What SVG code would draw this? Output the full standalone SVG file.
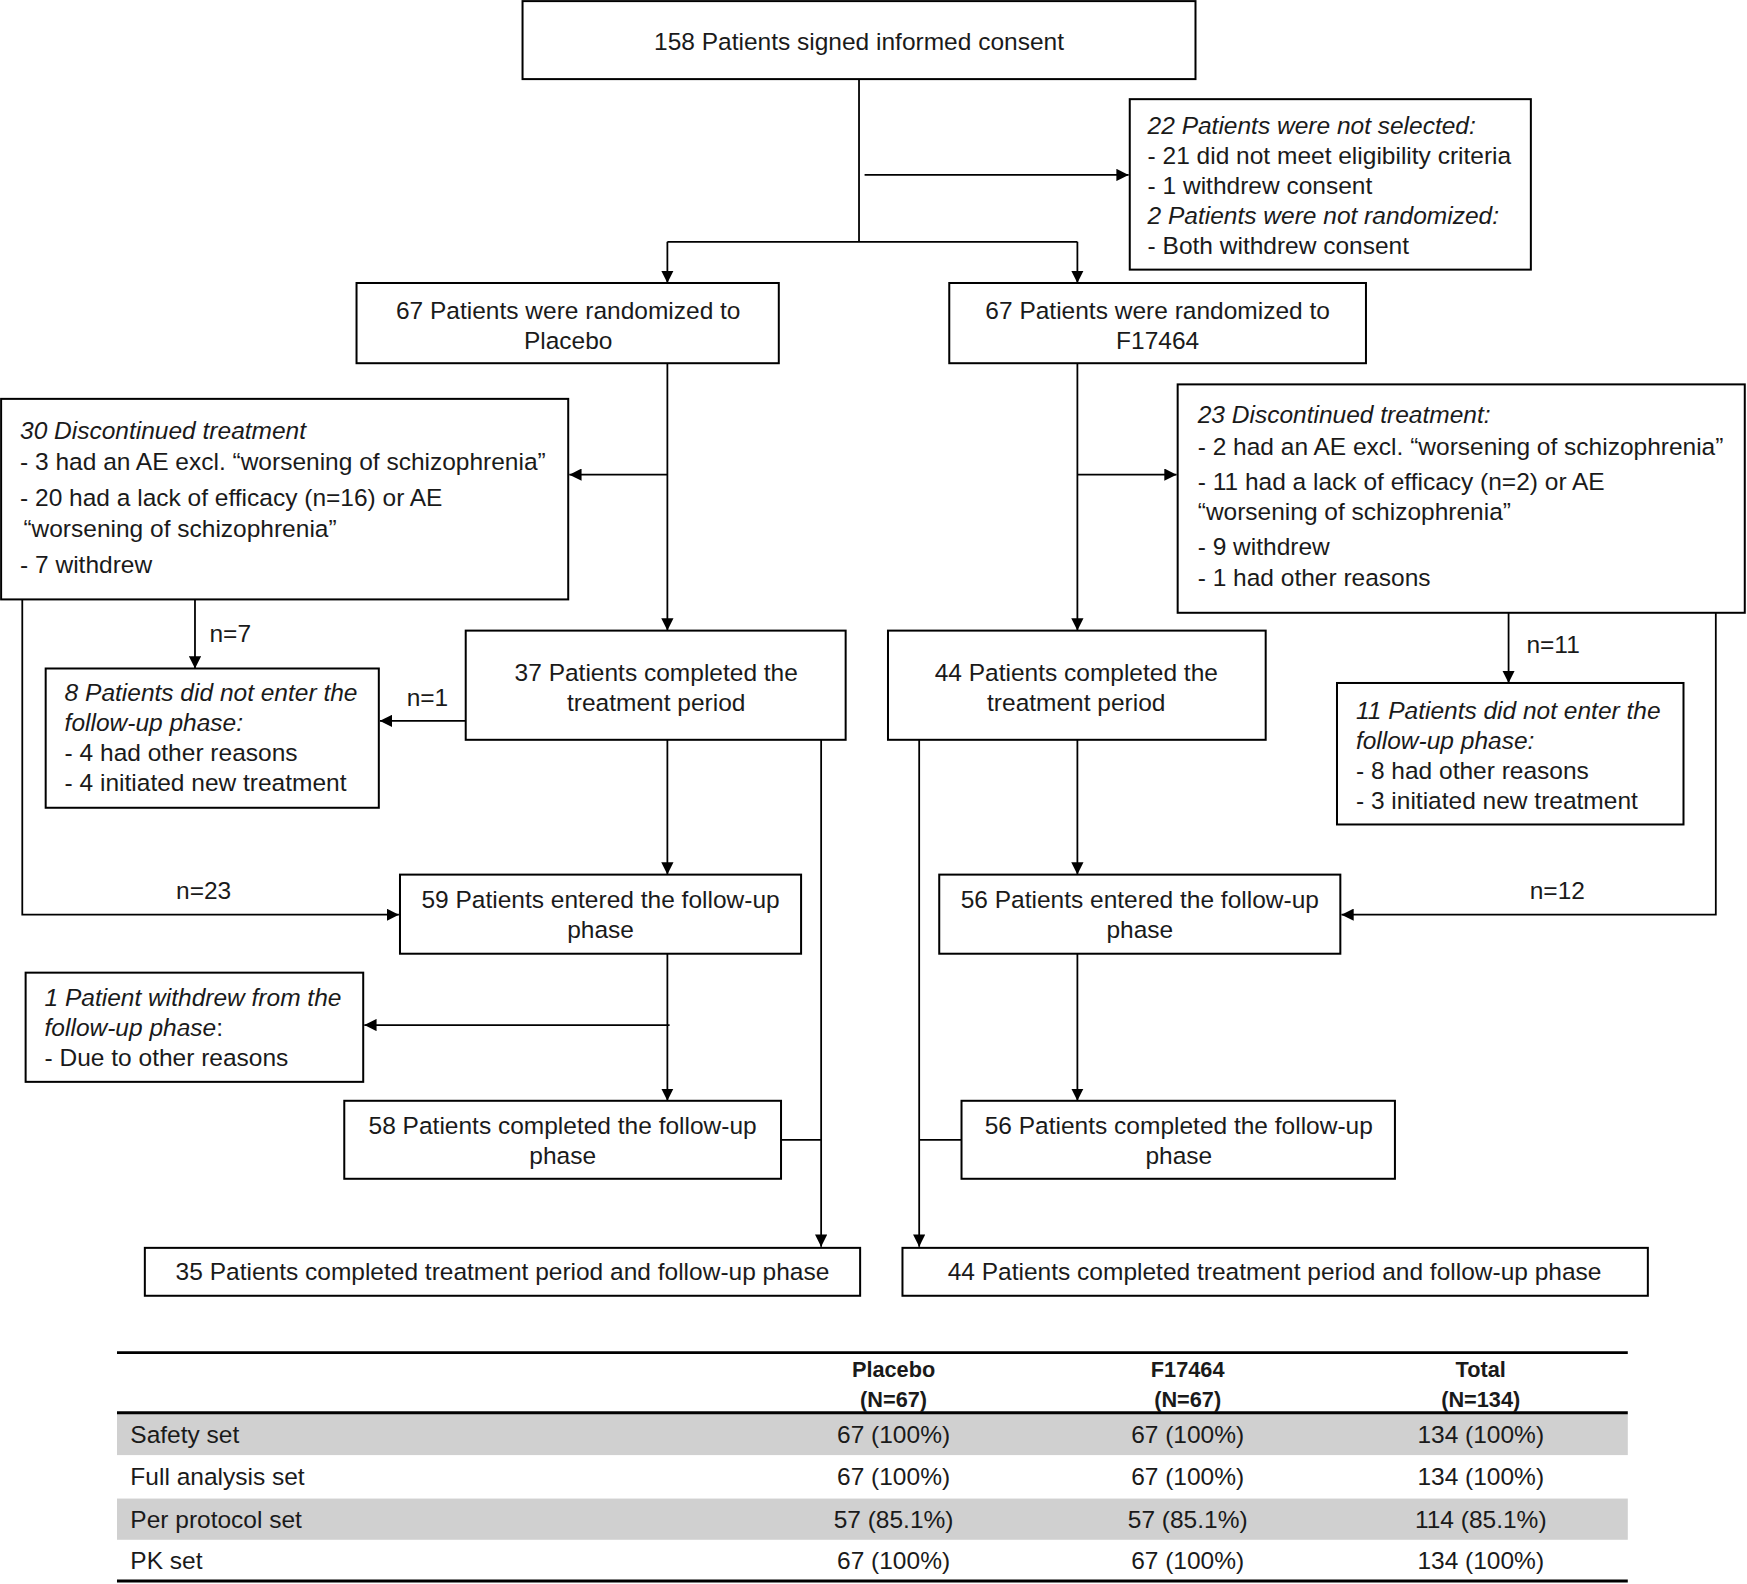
<svg xmlns="http://www.w3.org/2000/svg" width="1747" height="1584" viewBox="0 0 1747 1584">
<style>
.b{fill:#fff;stroke:#000;stroke-width:1.8}
.t{font-family:"Liberation Sans",Arial,sans-serif;font-size:22px;fill:#1a1a1a}
.c{text-anchor:middle}
.i{font-style:italic}
.h{font-weight:bold;font-size:19.5px}
.l{fill:none;stroke:#000;stroke-width:1.6}
.a{marker-end:url(#ar)}
.g{fill:#d0d0d0}
.r{stroke:#000;stroke-width:2.6}
</style>
<defs>
<marker id="ar" viewBox="0 0 10 10" markerWidth="11" markerHeight="11" refX="10" refY="5" orient="auto" markerUnits="userSpaceOnUse">
<path d="M0,0 L10,5 L0,10 Z" fill="#000"/>
</marker>
</defs>
<rect width="1747" height="1584" fill="#fff"/>
<g transform="scale(1.11416)">
<g id="connectors">
<path class="l" d="M771,71 V217 M599,217 H967"/>
<path class="l a" d="M776,157 H1013"/>
<path class="l a" d="M599,217 V254"/>
<path class="l a" d="M967,217 V254"/>
<path class="l a" d="M599,326 V566"/>
<path class="l a" d="M599,426 H511"/>
<path class="l a" d="M967,326 V566"/>
<path class="l a" d="M967,426 H1056"/>
<path class="l a" d="M175,538 V600"/>
<path class="l a" d="M20,538 V821 H358"/>
<path class="l a" d="M418,647 H341"/>
<path class="l a" d="M1354,550 V613"/>
<path class="l a" d="M1540,550 V821 H1204"/>
<path class="l a" d="M599,664 V785"/>
<path class="l a" d="M967,664 V785"/>
<path class="l a" d="M599,856 V988"/>
<path class="l a" d="M601,920 H327"/>
<path class="l a" d="M967,856 V988"/>
<path class="l a" d="M737,664 V1119"/>
<path class="l" d="M701,1023 H737"/>
<path class="l a" d="M825,664 V1119"/>
<path class="l" d="M863,1023 H825"/>
<text class="t" x="188" y="576">n=7</text>
<text class="t" x="158" y="807">n=23</text>
<text class="t" x="365" y="634">n=1</text>
<text class="t" x="1370" y="586">n=11</text>
<text class="t" x="1373" y="807">n=12</text>
</g>
<g id="consent">
<rect class="b" x="469" y="1" width="604" height="70"/>
<text class="t c" x="771" y="45">158 Patients signed informed consent</text>
</g>
<g id="notSelected">
<rect class="b" x="1014" y="89" width="360" height="153"/>
<text class="t i" x="1030" y="120">22 Patients were not selected:</text>
<text class="t" x="1030" y="147">- 21 did not meet eligibility criteria</text>
<text class="t" x="1030" y="174">- 1 withdrew consent</text>
<text class="t i" x="1030" y="201">2 Patients were not randomized:</text>
<text class="t" x="1030" y="228">- Both withdrew consent</text>
</g>
<g id="randPlacebo">
<rect class="b" x="320" y="254" width="379" height="72"/>
<text class="t c" x="510" y="286">67 Patients were randomized to</text>
<text class="t c" x="510" y="313">Placebo</text>
</g>
<g id="randF">
<rect class="b" x="852" y="254" width="374" height="72"/>
<text class="t c" x="1039" y="286">67 Patients were randomized to</text>
<text class="t c" x="1039" y="313">F17464</text>
</g>
<g id="discPlacebo">
<rect class="b" x="1" y="358" width="509" height="180"/>
<text class="t i" x="18" y="394">30 Discontinued treatment</text>
<text class="t" x="18" y="422">- 3 had an AE excl. “worsening of schizophrenia”</text>
<text class="t" x="18" y="454">- 20 had a lack of efficacy (n=16) or AE</text>
<text class="t" x="21" y="482">“worsening of schizophrenia”</text>
<text class="t" x="18" y="514">- 7 withdrew</text>
</g>
<g id="discF">
<rect class="b" x="1057" y="345" width="509" height="205"/>
<text class="t i" x="1075" y="380">23 Discontinued treatment:</text>
<text class="t" x="1075" y="408">- 2 had an AE excl. “worsening of schizophrenia”</text>
<text class="t" x="1075" y="440">- 11 had a lack of efficacy (n=2) or AE</text>
<text class="t" x="1075" y="467">“worsening of schizophrenia”</text>
<text class="t" x="1075" y="498">- 9 withdrew</text>
<text class="t" x="1075" y="526">- 1 had other reasons</text>
</g>
<g id="notEnterPlacebo">
<rect class="b" x="41" y="600" width="299" height="125"/>
<text class="t i" x="58" y="629">8 Patients did not enter the</text>
<text class="t i" x="58" y="656">follow-up phase:</text>
<text class="t" x="58" y="683">- 4 had other reasons</text>
<text class="t" x="58" y="710">- 4 initiated new treatment</text>
</g>
<g id="complPlacebo">
<rect class="b" x="418" y="566" width="341" height="98"/>
<text class="t c" x="589" y="611">37 Patients completed the</text>
<text class="t c" x="589" y="638">treatment period</text>
</g>
<g id="complF">
<rect class="b" x="797" y="566" width="339" height="98"/>
<text class="t c" x="966" y="611">44 Patients completed the</text>
<text class="t c" x="966" y="638">treatment period</text>
</g>
<g id="notEnterF">
<rect class="b" x="1200" y="613" width="311" height="127"/>
<text class="t i" x="1217" y="645">11 Patients did not enter the</text>
<text class="t i" x="1217" y="672">follow-up phase:</text>
<text class="t" x="1217" y="699">- 8 had other reasons</text>
<text class="t" x="1217" y="726">- 3 initiated new treatment</text>
</g>
<g id="enterPlacebo">
<rect class="b" x="359" y="785" width="360" height="71"/>
<text class="t c" x="539" y="815">59 Patients entered the follow-up</text>
<text class="t c" x="539" y="842">phase</text>
</g>
<g id="enterF">
<rect class="b" x="843" y="785" width="360" height="71"/>
<text class="t c" x="1023" y="815">56 Patients entered the follow-up</text>
<text class="t c" x="1023" y="842">phase</text>
</g>
<g id="withdrewFU">
<rect class="b" x="23" y="873" width="303" height="98"/>
<text class="t i" x="40" y="903">1 Patient withdrew from the</text>
<text class="t" x="40" y="930"><tspan class="i">follow-up phase</tspan>:</text>
<text class="t" x="40" y="957">- Due to other reasons</text>
</g>
<g id="fuPlacebo">
<rect class="b" x="309" y="988" width="392" height="70"/>
<text class="t c" x="505" y="1018">58 Patients completed the follow-up</text>
<text class="t c" x="505" y="1045">phase</text>
</g>
<g id="fuF">
<rect class="b" x="863" y="988" width="389" height="70"/>
<text class="t c" x="1058" y="1018">56 Patients completed the follow-up</text>
<text class="t c" x="1058" y="1045">phase</text>
</g>
<g id="allPlacebo">
<rect class="b" x="130" y="1120" width="642" height="43"/>
<text class="t c" x="451" y="1149">35 Patients completed treatment period and follow-up phase</text>
</g>
<g id="allF">
<rect class="b" x="810" y="1120" width="669" height="43"/>
<text class="t c" x="1144" y="1149">44 Patients completed treatment period and follow-up phase</text>
</g>
<g id="table">
<rect class="g" x="105" y="1269" width="1356" height="37"/>
<rect class="g" x="105" y="1345" width="1356" height="37"/>
<line class="r" x1="105" y1="1214" x2="1461" y2="1214"/>
<line class="r" x1="105" y1="1268" x2="1461" y2="1268"/>
<line class="r" x1="105" y1="1419" x2="1461" y2="1419"/>
<text class="t c h" x="802" y="1236">Placebo</text>
<text class="t c h" x="802" y="1263">(N=67)</text>
<text class="t c h" x="1066" y="1236">F17464</text>
<text class="t c h" x="1066" y="1263">(N=67)</text>
<text class="t c h" x="1329" y="1236">Total</text>
<text class="t c h" x="1329" y="1263">(N=134)</text>
<text class="t" x="117" y="1295">Safety set</text>
<text class="t c" x="802" y="1295">67 (100%)</text>
<text class="t c" x="1066" y="1295">67 (100%)</text>
<text class="t c" x="1329" y="1295">134 (100%)</text>
<text class="t" x="117" y="1333">Full analysis set</text>
<text class="t c" x="802" y="1333">67 (100%)</text>
<text class="t c" x="1066" y="1333">67 (100%)</text>
<text class="t c" x="1329" y="1333">134 (100%)</text>
<text class="t" x="117" y="1371">Per protocol set</text>
<text class="t c" x="802" y="1371">57 (85.1%)</text>
<text class="t c" x="1066" y="1371">57 (85.1%)</text>
<text class="t c" x="1329" y="1371">114 (85.1%)</text>
<text class="t" x="117" y="1408">PK set</text>
<text class="t c" x="802" y="1408">67 (100%)</text>
<text class="t c" x="1066" y="1408">67 (100%)</text>
<text class="t c" x="1329" y="1408">134 (100%)</text>
</g>
</g>
</svg>
